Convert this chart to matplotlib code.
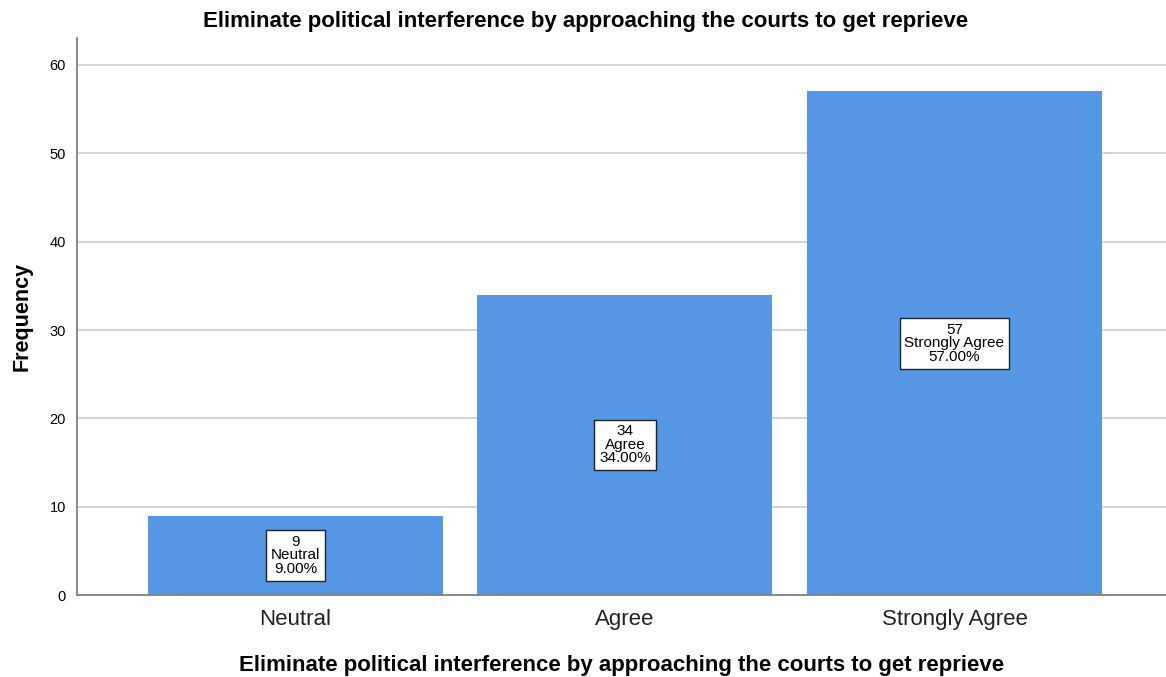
import matplotlib
matplotlib.use('Agg')
import matplotlib.pyplot as plt

plt.rcParams['font.family'] = ['Liberation Sans', 'DejaVu Sans']

# Survey responses
categories = ['Neutral', 'Agree', 'Strongly Agree']
counts = [9, 34, 57]
percents = [9.00, 34.00, 57.00]
y_ticks = [0, 10, 20, 30, 40, 50, 60]

title = 'Eliminate political interference by approaching the courts to get reprieve'

fig = plt.figure(figsize=(11.66, 6.77), dpi=100)
ax = fig.add_axes([0.066, 0.121, 0.934, 0.823])

x = range(len(categories))
ax.bar(x, counts, width=0.895, color='#5596e5', zorder=2)

# value boxes in the middle of each bar
for i, (c, cat, p) in enumerate(zip(counts, categories, percents)):
    ax.text(i, c / 2, f'{c}\n{cat}\n{p:.2f}%', ha='center', va='center',
            fontsize=11, linespacing=0.95, zorder=3,
            bbox=dict(boxstyle='square,pad=0.32', facecolor='white',
                      edgecolor='#222222', linewidth=1))

ax.set_xlim(-0.663, 2.642)
ax.set_ylim(0, 63.06)
ax.set_yticks(y_ticks)
ax.set_xticks(list(x))
ax.set_xticklabels(categories, fontsize=16, color='#222222')
ax.tick_params(axis='y', length=0, labelsize=10.5, pad=8)
ax.tick_params(axis='x', length=0, pad=10)
ax.yaxis.grid(True, color='#d0d0d0', linewidth=1.3, zorder=0)
ax.set_axisbelow(True)

for s in ['top', 'right']:
    ax.spines[s].set_visible(False)
for s in ['left', 'bottom']:
    ax.spines[s].set_color('#808080')
    ax.spines[s].set_linewidth(1.3)

ax.set_ylabel('Frequency', fontsize=15.5, fontweight='bold', labelpad=12)
ax.set_xlabel(title, fontsize=16, fontweight='bold', labelpad=18)
fig.suptitle(title, x=0.502, y=0.984, fontsize=16, fontweight='bold')

fig.savefig('out.png', dpi=100)
